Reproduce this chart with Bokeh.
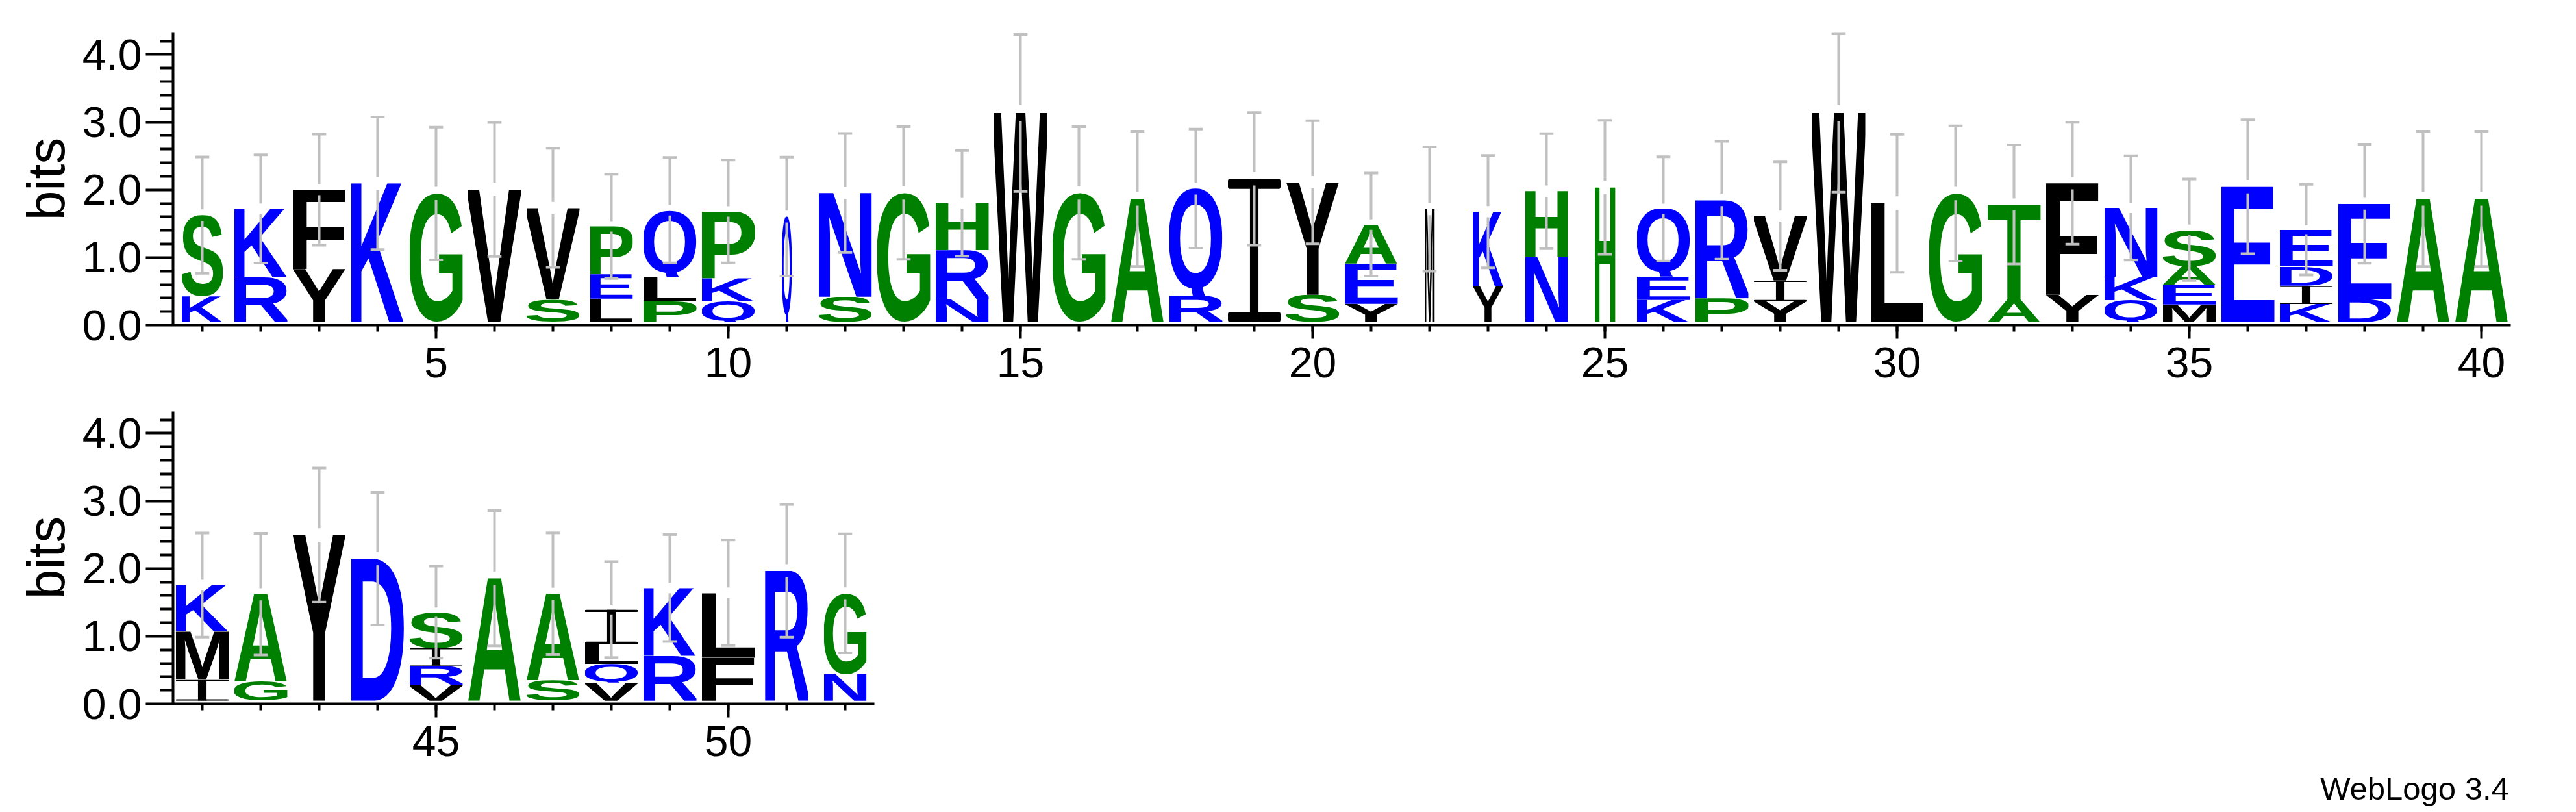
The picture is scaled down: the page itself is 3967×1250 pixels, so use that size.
import base64
from bokeh.plotting import figure
from bokeh.models import ColumnDataSource, Range1d, FixedTicker, NumeralTickFormatter
from bokeh.layouts import column, row
from bokeh.embed import file_html
from bokeh.resources import INLINE

positions = list(range(1, 53))
# letters of each stack, bottom -> top
stack_letters = ["KS", "RK", "YF", "K", "G", "V", "SV", "LEP", "PLQ", "QKP",
                 "Q", "SN", "G", "NRH", "W", "G", "A", "RQ", "I", "SY",
                 "YEA", "M", "YK", "NH", "H", "KEQ", "PR", "YIV", "W", "L",
                 "G", "AT", "YF", "QKN", "MEAS", "E", "KIDE", "DE", "A", "A",
                 "IMK", "GA", "Y", "D", "VRIS", "A", "SA", "VQLI", "RK", "FL",
                 "R", "NG"]
# letter heights in bits, bottom -> top
stack_heights = [[0.38, 1.20], [0.665, 1.007], [0.783, 1.173], [2.05], [1.90],
                 [1.96], [0.334, 1.354], [0.345, 0.360, 0.709], [0.309, 0.356, 0.988],
                 [0.305, 0.341, 0.988],
                 [1.558], [0.375, 1.532], [1.907], [0.337, 0.724, 0.694], [3.09],
                 [1.907], [1.82], [0.387, 1.585], [2.116], [0.402, 1.664],
                 [0.269, 0.595, 0.576], [1.67], [0.531, 1.10], [0.963, 0.971], [1.99],
                 [0.326, 0.345, 1.001], [0.349, 1.452], [0.305, 0.309, 0.952], [3.09], [1.755],
                 [1.90], [0.334, 1.403], [0.402, 1.649], [0.324, 0.343, 1.02],
                 [0.258, 0.292, 0.277, 0.538], [2.00], [0.265, 0.273, 0.284, 0.542],
                 [0.343, 1.405], [1.82], [1.82],
                 [0.31, 0.71, 0.69], [0.287, 1.287], [2.449], [2.10],
                 [0.236, 0.281, 0.262, 0.53], [1.81], [0.303, 1.277],
                 [0.268, 0.275, 0.294, 0.51], [0.664, 1.002], [0.635, 0.961],
                 [1.92], [0.393, 1.194]]
# stack width as fraction of a full stack (fraction of non-gap sequences)
stack_width = [0.78, 1, 1, 1, 1, 1, 1, 0.80, 1, 1,
               0.195, 1, 1, 1, 1, 1, 1, 1, 1, 1,
               1, 0.195, 0.57, 0.80, 0.39, 1, 1, 1, 1, 1,
               1, 1, 1, 1, 1, 1, 1, 1, 1, 1,
               1, 1, 1, 1, 1, 1, 1, 1, 1, 1,
               0.81, 0.80]
# error bar half-length in bits
error_bits = [0.86, 0.80, 0.82, 0.98, 0.98, 0.99, 0.88, 0.77, 0.78, 0.76,
              0.88, 0.88, 0.98, 0.78, 1.16, 0.98, 1.00, 0.88, 0.98, 0.91,
              0.76, 0.92, 0.83, 0.85, 0.99, 0.77, 0.87, 0.80, 1.17, 1.02,
              1.00, 0.88, 0.90, 0.77, 0.75, 0.99, 0.67, 0.88, 1.00, 1.00,
              0.77, 0.90, 0.99, 0.98, 0.68, 1.00, 0.90, 0.71, 0.79, 0.78,
              0.98, 0.88]
line_breaks = [(1, 40), (41, 52)]
x_major_ticks = [5, 10, 15, 20, 25, 30, 35, 40, 45, 50]
y_major_ticks = [0, 1, 2, 3, 4]
credit_text = "WebLogo 3.4"

# ---------------- styles ----------------
BLUE, GREEN, BLACK = "#0000ff", "#008000", "#000000"
COLOR = {}
for c in "RKDENQ":
    COLOR[c] = BLUE
for c in "SGHTAP":
    COLOR[c] = GREEN
for c in "YVMCLFIW":
    COLOR[c] = BLACK

CAP = 0.688
OV = 0.012
BOUNDS = {  # ink box of each bold glyph in em: x0, x1, y0, y1
    "A": (0.020, 0.702, 0, CAP), "D": (0.076, 0.685, 0, CAP), "E": (0.076, 0.621, 0, CAP),
    "F": (0.076, 0.583, 0, CAP), "G": (0.044, 0.713, -OV, CAP + OV), "H": (0.071, 0.651, 0, CAP),
    "K": (0.087, 0.722, 0, CAP), "L": (0.076, 0.583, 0, CAP), "M": (0.069, 0.765, 0, CAP),
    "N": (0.069, 0.654, 0, CAP), "P": (0.076, 0.627, 0, CAP), "Q": (0.044, 0.737, -0.055, CAP + OV),
    "R": (0.076, 0.677, 0, CAP), "S": (0.039, 0.629, -OV, CAP + OV), "T": (0.014, 0.598, 0, CAP),
    "V": (0.024, 0.653, 0, CAP), "W": (0.024, 0.919, 0, CAP), "Y": (0.015, 0.653, 0, CAP),
}

_cache = {}


def glyph_uri(letter):
    if letter in _cache:
        return _cache[letter]
    color = COLOR[letter]
    if letter == "I":
        vb = "0 0 100 100"
        body = (f'<rect x="0" y="0" width="100" height="7" rx="3" fill="{color}"/>'
                f'<rect x="42" y="0" width="16" height="100" fill="{color}"/>'
                f'<rect x="0" y="93" width="100" height="7" rx="3" fill="{color}"/>')
    else:
        x0, x1, y0, y1 = BOUNDS[letter]
        vb = f"{x0*1000:.1f} {-y1*1000:.1f} {(x1-x0)*1000:.1f} {(y1-y0)*1000:.1f}"
        body = (f'<text x="0" y="0" font-family="Liberation Sans" font-weight="bold" '
                f'font-size="1000" fill="{color}">{letter}</text>')
    svg = (f'<svg xmlns="http://www.w3.org/2000/svg" width="200" height="200" '
           f'viewBox="{vb}" preserveAspectRatio="none">{body}</svg>')
    uri = "data:image/svg+xml;base64," + base64.b64encode(svg.encode()).decode()
    _cache[letter] = uri
    return uri


STACK_BASE = 0.046
FULL_W = 0.911
CAP_HALF = 0.12
GREY = "#c0c0c0"
FONT = "Liberation Sans"
COL_PX = 90          # pixels per stack column
FRAME_H = 450
LEFT, TOP1, BOT1, TOP2, BOT2 = 266, 50, 120, 13, 160
RIGHT1, RIGHT2 = 70, 30


def build(first, last, border_top, border_bottom, border_right):
    n = last - first + 1
    p = figure(frame_width=n * COL_PX, frame_height=FRAME_H,
               x_range=Range1d(first - 0.5, last + 0.5), y_range=Range1d(0, 4.32),
               output_backend="svg", toolbar_location=None,
               min_border_left=LEFT, min_border_right=border_right,
               min_border_top=border_top, min_border_bottom=border_bottom)
    p.grid.visible = False
    p.outline_line_color = None

    img = dict(url=[], x=[], y=[], w=[], h=[])
    ex, top_lo, top_hi, cap_y = [], [], [], []
    for i in range(first - 1, last):
        pos = positions[i]
        w = FULL_W * stack_width[i]
        yb = STACK_BASE
        for letter, h in zip(stack_letters[i], stack_heights[i]):
            img["url"].append(glyph_uri(letter))
            img["x"].append(pos - w / 2)
            img["y"].append(yb)
            img["w"].append(w)
            img["h"].append(h)
            yb += h
        ex.append(pos)
        e = error_bits[i]
        gap = 0.1 * e
        top_lo.append((yb - e, yb - gap))
        top_hi.append((yb + gap, yb + e))
        cap_y.append((yb - e, yb + e))

    p.image_url(url="url", x="x", y="y", w="w", h="h", anchor="bottom_left",
                source=ColumnDataSource(img))

    seg = dict(x0=[], y0=[], x1=[], y1=[])
    for x, lo, hi, caps in zip(ex, top_lo, top_hi, cap_y):
        for a, b in (lo, hi):
            seg["x0"].append(x); seg["x1"].append(x)
            seg["y0"].append(a); seg["y1"].append(b)
        for c in caps:
            seg["x0"].append(x - CAP_HALF); seg["x1"].append(x + CAP_HALF)
            seg["y0"].append(c); seg["y1"].append(c)
    p.segment(x0="x0", y0="y0", x1="x1", y1="y1", source=ColumnDataSource(seg),
              line_color=GREY, line_width=4)

    xa = p.xaxis[0]
    xa.ticker = FixedTicker(ticks=[t for t in x_major_ticks if first <= t <= last],
                            minor_ticks=positions[first - 1:last])
    xa.axis_line_width = 4
    xa.major_tick_line_width = 4
    xa.minor_tick_line_width = 4
    xa.major_tick_in = 0
    xa.minor_tick_in = 0
    xa.major_tick_out = 21
    xa.minor_tick_out = 10
    xa.major_label_text_font = FONT
    xa.major_label_text_font_size = "66px"
    xa.major_label_text_color = "#000000"
    xa.major_label_standoff = 13

    ya = p.yaxis[0]
    ya.ticker = FixedTicker(ticks=y_major_ticks,
                            minor_ticks=[round(0.2 * k, 1) for k in range(1, 22) if k % 5])
    ya.formatter = NumeralTickFormatter(format="0.0")
    ya.axis_line_width = 4
    ya.major_tick_line_width = 4
    ya.minor_tick_line_width = 4
    ya.major_tick_in = 0
    ya.minor_tick_in = 0
    ya.major_tick_out = 42
    ya.minor_tick_out = 20
    ya.major_label_text_font = FONT
    ya.major_label_text_font_size = "66px"
    ya.major_label_text_color = "#000000"
    ya.major_label_standoff = 6
    ya.axis_label = "bits"
    ya.axis_label_text_font = FONT
    ya.axis_label_text_font_size = "82px"
    ya.axis_label_text_font_style = "normal"
    ya.axis_label_text_color = "#000000"
    ya.axis_label_standoff = 8
    return p


(f1, l1), (f2, l2) = line_breaks
p1 = build(f1, l1, TOP1, BOT1, RIGHT1)
p2 = build(f2, l2, TOP2, BOT2, RIGHT2)

# credit: an empty, narrow frame at the far right whose (bare) x-axis label is the credit
w2 = LEFT + (l2 - f2 + 1) * COL_PX + RIGHT2
CREDIT_CENTER, CREDIT_W = 3718, 300
p3 = figure(frame_width=CREDIT_W, frame_height=FRAME_H,
            x_range=Range1d(0, 1), y_range=Range1d(0, 1),
            output_backend="svg", toolbar_location=None,
            min_border_left=CREDIT_CENTER - CREDIT_W // 2 - w2, min_border_right=0,
            min_border_top=TOP2, min_border_bottom=BOT2,
            y_axis_location=None)
p3.grid.visible = False
p3.outline_line_color = None
ca = p3.xaxis[0]
ca.ticker = FixedTicker(ticks=[], minor_ticks=[])
ca.axis_line_color = None
ca.major_tick_line_color = None
ca.minor_tick_line_color = None
ca.major_label_text_font_size = "0px"
ca.axis_label = credit_text
ca.axis_label_text_font = FONT
ca.axis_label_text_font_size = "49px"
ca.axis_label_text_font_style = "normal"
ca.axis_label_text_color = "#000000"
ca.axis_label_standoff = 103

layout = column(p1, row(p2, p3))
open("out.html", "w").write(file_html(layout, INLINE))
